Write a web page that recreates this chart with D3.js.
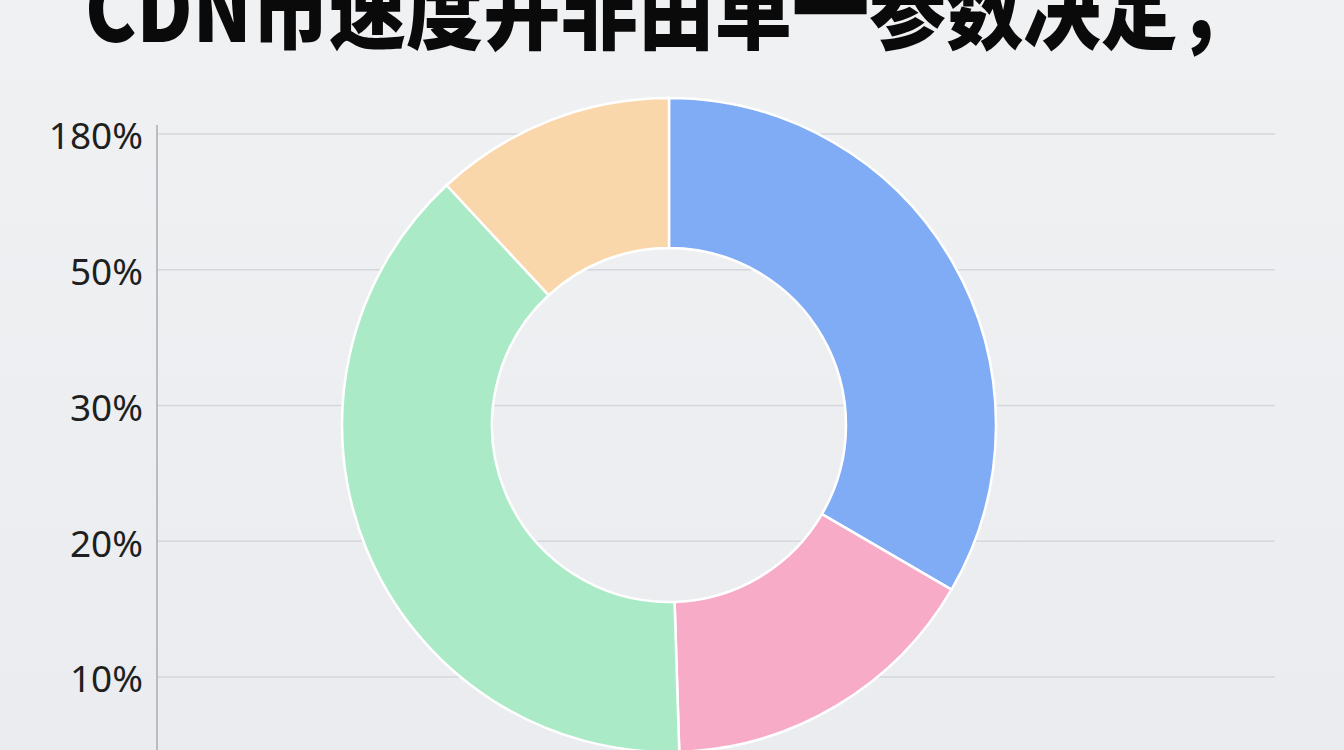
<!DOCTYPE html>
<html>
<head>
<meta charset="utf-8">
<script src="https://cdn.jsdelivr.net/npm/d3@7"></script>
<style>
  html, body { margin: 0; padding: 0; background: #eceef1; overflow: hidden; }
  svg { display: block; }
</style>
</head>
<body>
<svg id="chart" width="1344" height="750"></svg>
<script>
// ---- data ----
const titleText = "CDN市速度并非由单一参数决定，";
const tickLabels = ["180%", "50%", "30%", "20%", "10%"];
const sliceNames = ["蓝", "粉", "绿", "橙"];
const sliceValues = [33.4, 16.1, 38.6, 11.9];
const sliceColors = ["#80acf5", "#f8abc6", "#aaeac6", "#fad6ab"];

// ---- layout ----
const W = 1344, H = 750;
const svg = d3.select("#chart");

const defs = svg.append("defs");
const grad = defs.append("linearGradient").attr("id", "bg").attr("x1", 0).attr("y1", 0).attr("x2", 0).attr("y2", 1);
grad.append("stop").attr("offset", "0%").attr("stop-color", "#f0f1f3");
grad.append("stop").attr("offset", "100%").attr("stop-color", "#eaecef");
svg.append("rect").attr("width", W).attr("height", H).attr("fill", "url(#bg)");

// y axis (categorical tick labels)
const axisX = 157, gridRight = 1275;
const y = d3.scalePoint().domain(tickLabels).range([134, 677]);

const grid = svg.append("g");
grid.selectAll("line").data(tickLabels).join("line")
  .attr("x1", axisX).attr("x2", gridRight)
  .attr("y1", d => y(d)).attr("y2", d => y(d))
  .attr("stroke", "#d4d7db").attr("stroke-width", 1.5);

svg.append("line")
  .attr("x1", axisX).attr("x2", axisX).attr("y1", 125).attr("y2", H)
  .attr("stroke", "#a9adb2").attr("stroke-width", 1.5);

const axis = d3.axisLeft(y).tickSize(0).tickPadding(14);
const ag = svg.append("g").attr("transform", `translate(${axisX},0)`).call(axis);
ag.select(".domain").remove();
ag.selectAll("text")
  .attr("font-family", "'Noto Sans', 'Open Sans', sans-serif")
  .attr("font-size", 37)
  .attr("fill", "#1f1f1f")
  .attr("dy", "0.4em");

// donut
const cx = 669, cy = 425, rOuter = 327, rInner = 177;
const pie = d3.pie().sort(null).value(d => d.v);
const arc = d3.arc().innerRadius(rInner).outerRadius(rOuter);
const pieData = pie(sliceValues.map((v, i) => ({ v, name: sliceNames[i], color: sliceColors[i] })));

svg.append("g").attr("transform", `translate(${cx},${cy})`)
  .selectAll("path").data(pieData).join("path")
  .attr("d", arc)
  .attr("fill", d => d.data.color)
  .attr("stroke", "#ffffff")
  .attr("stroke-width", 2.5)
  .attr("stroke-linejoin", "round");

// title (cropped at top of the frame, as in the reference)
svg.append("text")
  .attr("x", 85).attr("y", 42)
  .attr("textLength", 1170)
  .attr("lengthAdjust", "spacingAndGlyphs")
  .attr("font-family", "'Noto Sans CJK SC', 'Noto Sans', sans-serif")
  .attr("font-weight", 900)
  .attr("font-size", 90)
  .attr("fill", "#0a0a0a")
  .text(titleText);
</script>
</body>
</html>
